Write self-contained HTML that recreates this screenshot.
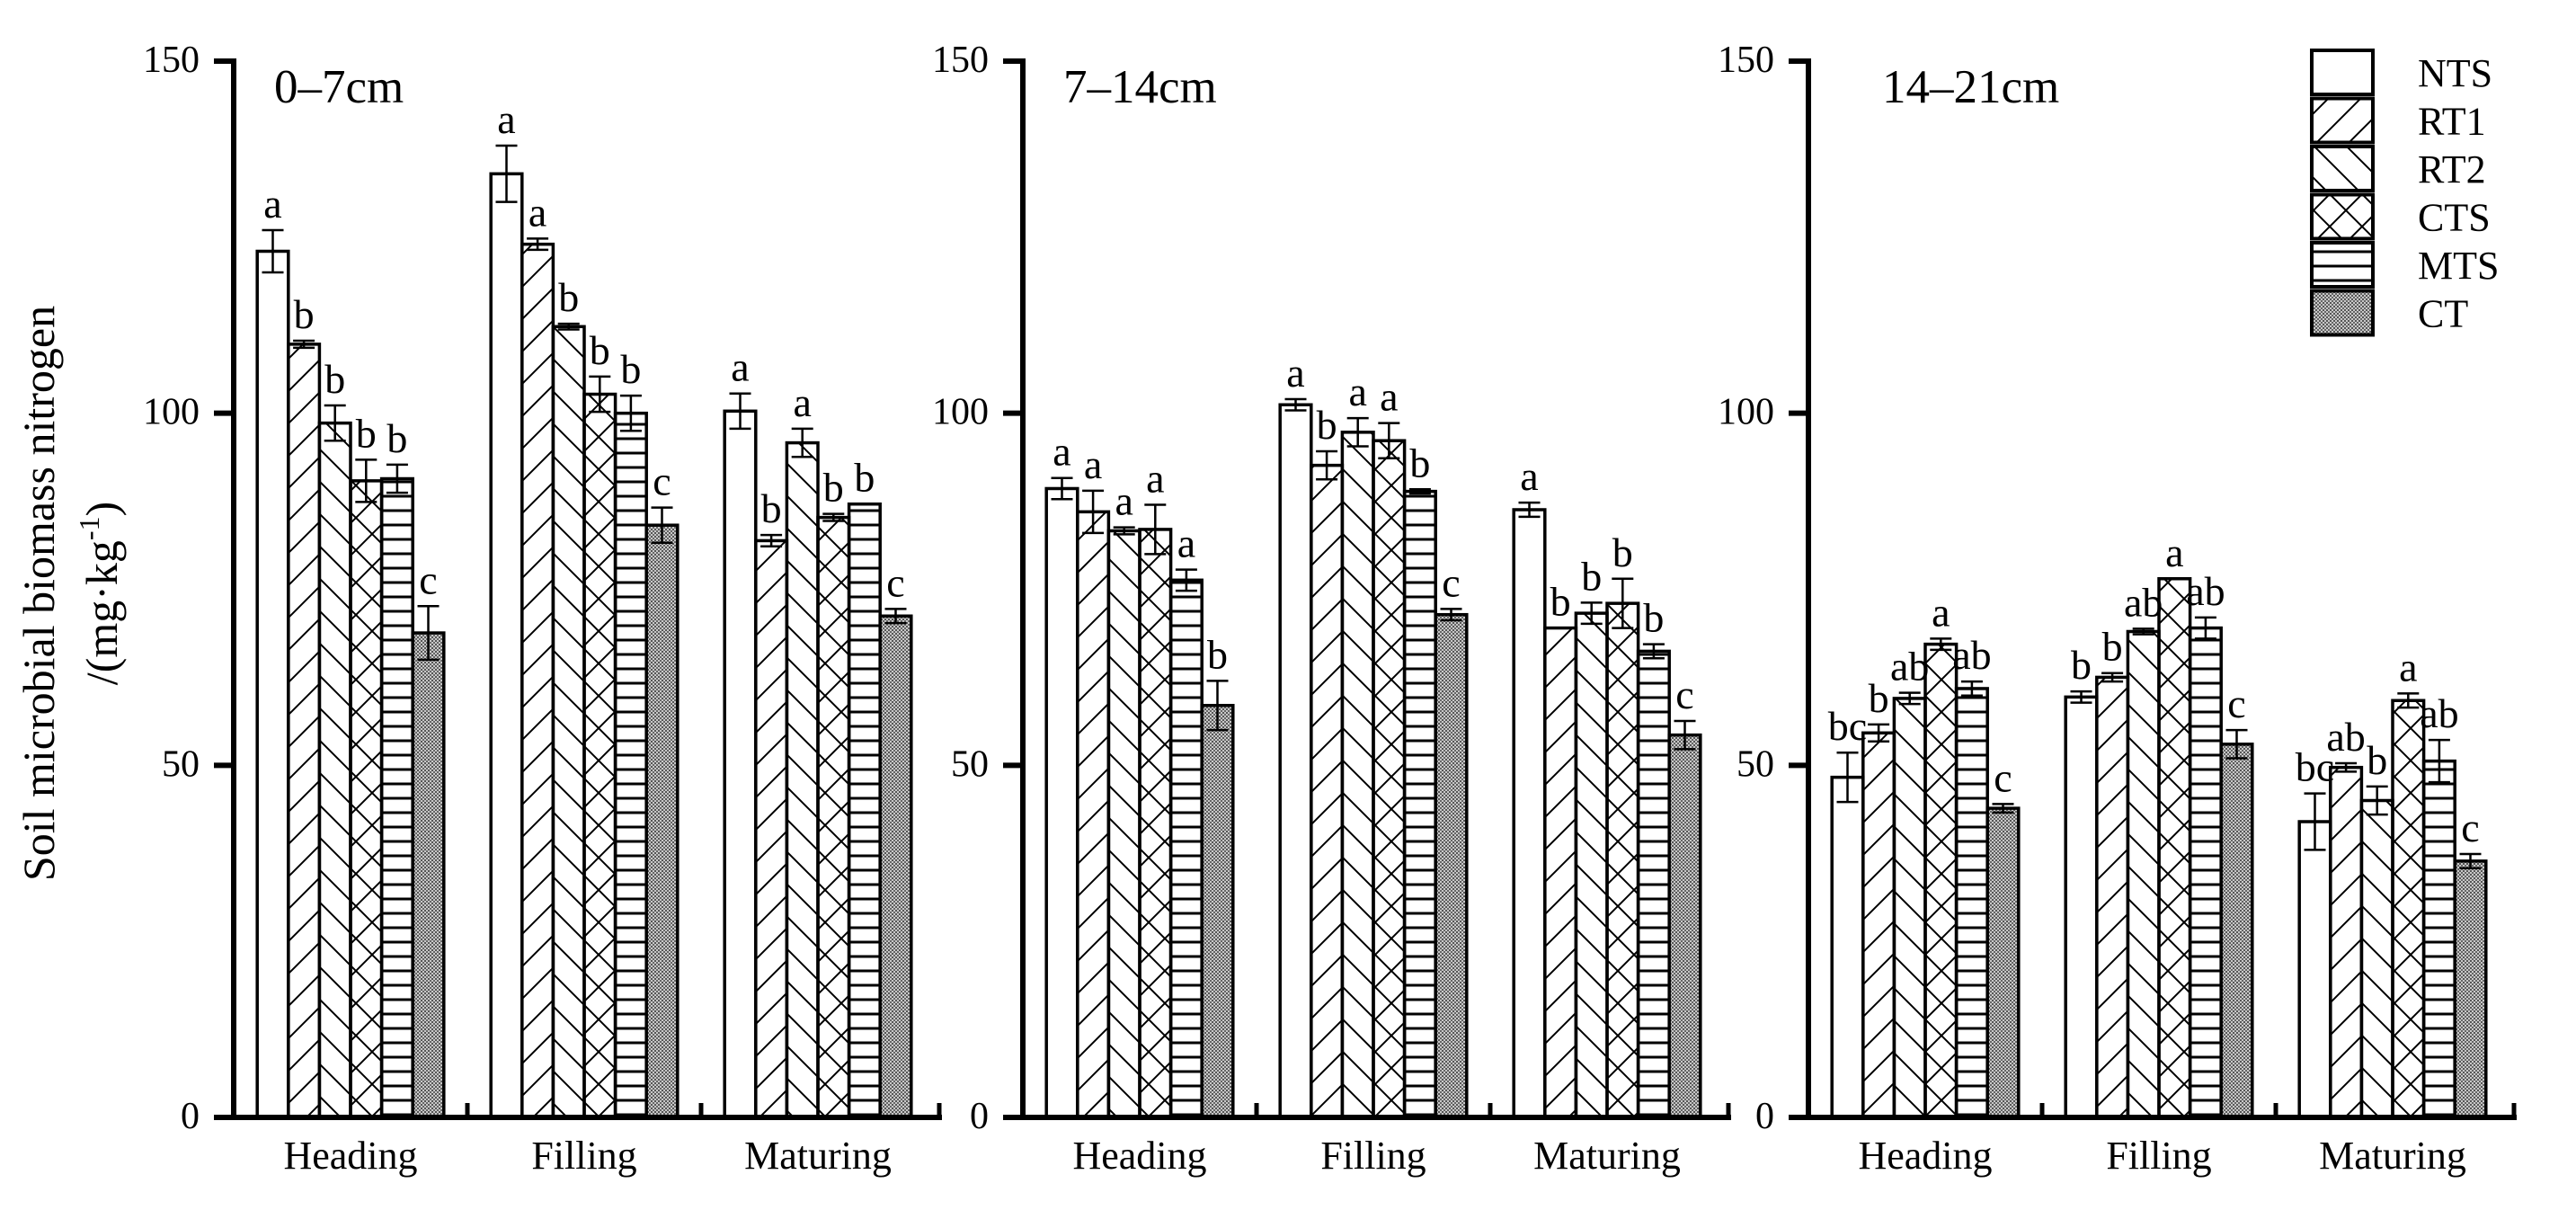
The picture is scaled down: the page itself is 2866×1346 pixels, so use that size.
<!DOCTYPE html>
<html><head><meta charset="utf-8">
<style>
html,body{margin:0;padding:0;background:#fff;}
svg{display:block;font-family:"Liberation Serif","Times New Roman",serif;}
</style></head>
<body>
<svg id="chart" width="2866" height="1346" viewBox="0 0 2866 1346" xmlns="http://www.w3.org/2000/svg">
<defs>
<pattern id="p-rt1" patternUnits="userSpaceOnUse" width="36" height="36"><path d="M-9,9 L9,-9 M0,36 L36,0 M27,45 L45,27" stroke="#000" stroke-width="2"/></pattern>
<pattern id="p-rt2" patternUnits="userSpaceOnUse" width="36" height="36"><path d="M-9,27 L9,45 M0,0 L36,36 M27,-9 L45,9" stroke="#000" stroke-width="2"/></pattern>
<pattern id="p-cts" patternUnits="userSpaceOnUse" width="36" height="36"><path d="M-9,9 L9,-9 M0,36 L36,0 M27,45 L45,27 M-9,27 L9,45 M0,0 L36,36 M27,-9 L45,9" stroke="#000" stroke-width="2"/></pattern>
<pattern id="p-mts" patternUnits="userSpaceOnUse" width="20" height="16"><path d="M0,8 L20,8" stroke="#000" stroke-width="3"/></pattern>
<pattern id="p-ct" patternUnits="userSpaceOnUse" width="4" height="4"><rect width="4" height="4" fill="#c8c8c8"/><rect width="2" height="2" fill="#555"/><rect x="2" y="2" width="2" height="2" fill="#666"/></pattern>
</defs>
<g id="plot"></g>
</svg>
<script>
const series = ["NTS","RT1","RT2","CTS","MTS","CT"];
const stages = ["Heading","Filling","Maturing"];
const depths = ["0–7cm","7–14cm","14–21cm"];
const yTicks = [0,50,100,150];
// values[panel][stage][series]
const vals0 = [[123,109.8,98.6,90.4,90.7,68.8],[134,124,112.3,102.7,100,84.1],[100.3,81.9,95.8,85.2,87.1,71.2]];
const vals1 = [[89.3,86,83.3,83.5,76.3,58.5],[101.2,92.6,97.3,96.1,88.9,71.4],[86.3,69.5,71.6,73,66.2,54.3]];
const vals2 = [[48.3,54.6,59.5,67.2,60.9,43.9],[59.7,62.5,69,76.5,69.5,53],[42,49.7,45,59.2,50.6,36.4]];
const errs0 = [[3,0.5,2.5,3,2,3.8],[4,0.8,0.4,2.5,2.5,2.5],[2.5,0.8,2,0.5,0,1]];
const errs1 = [[1.5,3,0.5,3.5,1.5,3.5],[0.8,2,2,2.5,0.3,0.8],[1,0,1.5,3.5,1,2]];
const errs2 = [[3.5,1.2,0.8,0.8,1,0.6],[0.8,0.6,0.4,0,1.5,2],[4,0.6,2,1,3,1]];
const lets0 = [["a","b","b","b","b","c"],["a","a","b","b","b","c"],["a","b","a","b","b","c"]];
const lets1 = [["a","a","a","a","a","b"],["a","b","a","a","b","c"],["a","b","b","b","b","c"]];
const lets2 = [["bc","b","ab","a","ab","c"],["b","b","ab","a","ab","c"],["bc","ab","b","a","ab","c"]];
const fills = ["#fff","url(#p-rt1)","url(#p-rt2)","url(#p-cts)","url(#p-mts)","url(#p-ct)"];
const allVals=[vals0,vals1,vals2], allErrs=[errs0,errs1,errs2], allLets=[lets0,lets1,lets2];
const axisX=[260,1138,2012], titleOff=[45,45,82], panelW=785, y0=1243, y150=68;
const NS="http://www.w3.org/2000/svg";
const g=document.getElementById('plot');
function y(v){return y0-(v/150)*(y0-y150);}
function mk(tag,attrs,parent){const e=document.createElementNS(NS,tag);for(const k in attrs)e.setAttribute(k,attrs[k]);(parent||g).appendChild(e);return e;}
function txt(s,attrs,parent){const e=mk('text',attrs,parent);e.textContent=s;return e;}
for(let p=0;p<3;p++){
  const ax=axisX[p];
  const pg=mk('g',{});
  
  
  const gw=260, bw=34.6;
  for(let s=0;s<3;s++){
    const cx=ax+gw*(s+0.5);
    for(let k=0;k<6;k++){
      const v=allVals[p][s][k], e=allErrs[p][s][k];
      const x=cx-3*bw+k*bw;
      const r=mk('rect',{x:x,y:y(v),width:bw,height:y0-y(v),fill:fills[k],stroke:'#000','stroke-width':3.5},pg);
      
      
      const xm=x+bw/2;
      if(e>0){
        const eb=mk('path',{d:`M${xm},${y(v+e)}L${xm},${y(v-e)}M${xm-12},${y(v+e)}L${xm+12},${y(v+e)}M${xm-12},${y(v-e)}L${xm+12},${y(v-e)}`,stroke:'#000','stroke-width':2.5,fill:'none'},pg);
        
        
      }
      const t=txt(allLets[p][s][k],{x:xm,y:y(v+e)-14,'font-size':46,'text-anchor':'middle'},pg);
      
      
    }
    const cl=txt(stages[s],{x:cx,y:1300,'font-size':44,'text-anchor':'middle'},pg);
    
    
    if(s>0){mk('line',{x1:ax+gw*s,y1:y0,x2:ax+gw*s,y2:y0-16,stroke:'#000','stroke-width':5},pg);}
  }
  mk('line',{x1:ax+panelW,y1:y0,x2:ax+panelW,y2:y0-16,stroke:'#000','stroke-width':5},pg);
  const ya=mk('line',{x1:ax,y1:y150-3,x2:ax,y2:y0+3,stroke:'#000','stroke-width':6},pg);
  
  
  const xa=mk('line',{x1:ax-22,y1:y0,x2:ax+panelW+3,y2:y0,stroke:'#000','stroke-width':6},pg);
  
  
  yTicks.forEach(tv=>{
    mk('line',{x1:ax-22,y1:y(tv),x2:ax,y2:y(tv),stroke:'#000','stroke-width':6},pg);
    const tl=txt(String(tv),{x:ax-38,y:y(tv)+12,'font-size':42,'text-anchor':'end'},pg);
    
    
  });
  const ti=txt(depths[p],{x:ax+titleOff[p],y:114,'font-size':53},pg);
  
  
}
// legend
const lg=mk('g',{});


for(let k=0;k<6;k++){
  const yy=56+k*53.5;
  const r=mk('rect',{x:2572,y:yy,width:68,height:49,fill:fills[k],stroke:'#000','stroke-width':4},lg);
  
  
  const t=txt(series[k],{x:2690,y:yy+40,'font-size':44},lg);
  
  
}
// y axis title
const yt=mk('text',{transform:'translate(60,660) rotate(-90)','font-size':50,'text-anchor':'middle'});
yt.textContent='Soil microbial biomass nitrogen';


const yt2=mk('text',{transform:'translate(130,660) rotate(-90)','font-size':50,'text-anchor':'middle'});
yt2.innerHTML='/(mg·kg<tspan dy="-20" font-size="32">-1</tspan><tspan dy="20">)</tspan>';


</script>
</body></html>
